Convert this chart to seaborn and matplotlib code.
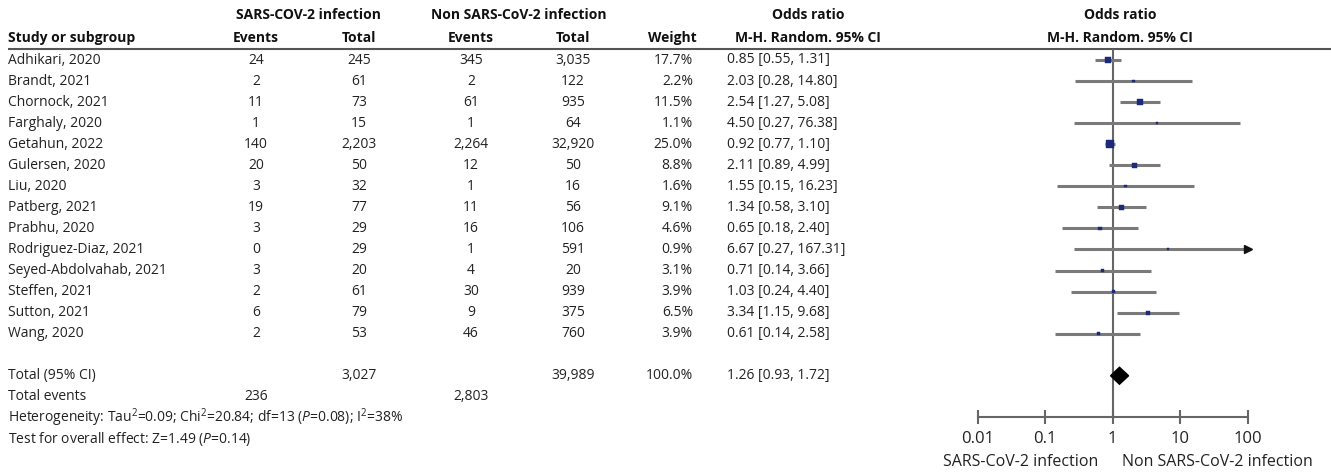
import numpy as np
import pandas as pd
import matplotlib
matplotlib.use("Agg")
import matplotlib.pyplot as plt
import seaborn as sns

# ---------------- data ----------------
studies = ["Adhikari, 2020", "Brandt, 2021", "Chornock, 2021", "Farghaly, 2020",
           "Getahun, 2022", "Gulersen, 2020", "Liu, 2020", "Patberg, 2021",
           "Prabhu, 2020", "Rodriguez-Diaz, 2021", "Seyed-Abdolvahab, 2021",
           "Steffen, 2021", "Sutton, 2021", "Wang, 2020"]
sars_events = [24, 2, 11, 1, 140, 20, 3, 19, 3, 0, 3, 2, 6, 2]
sars_total = [245, 61, 73, 15, 2203, 50, 32, 77, 29, 29, 20, 61, 79, 53]
non_events = [345, 2, 61, 1, 2264, 12, 1, 11, 16, 1, 4, 30, 9, 46]
non_total = [3035, 122, 935, 64, 32920, 50, 16, 56, 106, 591, 20, 939, 375, 760]
weights = [17.7, 2.2, 11.5, 1.1, 25.0, 8.8, 1.6, 9.1, 4.6, 0.9, 3.1, 3.9, 6.5, 3.9]
or_est = [0.85, 2.03, 2.54, 4.50, 0.92, 2.11, 1.55, 1.34, 0.65, 6.67, 0.71, 1.03, 3.34, 0.61]
or_lo = [0.55, 0.28, 1.27, 0.27, 0.77, 0.89, 0.15, 0.58, 0.18, 0.27, 0.14, 0.24, 1.15, 0.14]
or_hi = [1.31, 14.80, 5.08, 76.38, 1.10, 4.99, 16.23, 3.10, 2.40, 167.31, 3.66, 4.40, 9.68, 2.58]

total_sars = 3027
total_non = 39989
total_weight = 100.0
total_or = [1.26, 0.93, 1.72]
total_events_sars = 236
total_events_non = 2803

x_ticks = [0.01, 0.1, 1, 10, 100]
x_tick_labels = ["0.01", "0.1", "1", "10", "100"]
left_label = "SARS-CoV-2 infection"
right_label = "Non SARS-CoV-2 infection"

# ---------------- style ----------------
sns.set_theme(style="white")
FONT = ["Open Sans", "DejaVu Sans"]
plt.rcParams["font.family"] = FONT
plt.rcParams["mathtext.fontset"] = "custom"
plt.rcParams["mathtext.rm"] = "Open Sans"
plt.rcParams["mathtext.it"] = "Open Sans:italic"

W, H = 1331, 473
fig = plt.figure(figsize=(W / 100, H / 100), dpi=100)
fig.patch.set_facecolor("white")

# table axes in pixel coordinates
ax = fig.add_axes([0, 0, 1, 1])
ax.set_xlim(0, W)
ax.set_ylim(H, 0)
ax.axis("off")

TXT = "#222222"
FS = 10
row0, step = 60, 21.05
rows_y = [row0 + i * step for i in range(len(studies))]
y_total = row0 + 15 * step
y_tevents = y_total + step
y_het = y_tevents + step
y_test = y_het + step

# column positions
X_STUDY = 8
X_SE, X_ST, X_NE, X_NT = 256, 359, 471, 573
X_W = 693
X_OR = 727

# headers
hb = dict(fontsize=FS, fontweight="bold", color="#111111", va="center")
ax.text(308, 15, "SARS-COV-2 infection", ha="center", **hb)
ax.text(519, 15, "Non SARS-CoV-2 infection", ha="center", **hb)
ax.text(808, 15, "Odds ratio", ha="center", **hb)
ax.text(1120, 15, "Odds ratio", ha="center", **hb)
ax.text(X_STUDY, 38, "Study or subgroup", ha="left", **hb)
ax.text(X_SE, 38, "Events", ha="center", **hb)
ax.text(X_ST, 38, "Total", ha="center", **hb)
ax.text(X_NE, 38, "Events", ha="center", **hb)
ax.text(X_NT, 38, "Total", ha="center", **hb)
ax.text(672, 38, "Weight", ha="center", **hb)
ax.text(808, 38, "M-H. Random. 95% CI", ha="center", **hb)
ax.text(1120, 38, "M-H. Random. 95% CI", ha="center", **hb)
ax.plot([8, W], [49, 49], color="#555555", lw=1.5, solid_capstyle="butt")

tk = dict(fontsize=FS, color=TXT, va="center")
for i, y in enumerate(rows_y):
    ax.text(X_STUDY, y, studies[i], ha="left", **tk)
    ax.text(X_SE, y, f"{sars_events[i]:,}", ha="center", **tk)
    ax.text(X_ST, y, f"{sars_total[i]:,}", ha="center", **tk)
    ax.text(X_NE, y, f"{non_events[i]:,}", ha="center", **tk)
    ax.text(X_NT, y, f"{non_total[i]:,}", ha="center", **tk)
    ax.text(X_W, y, f"{weights[i]:.1f}%", ha="right", **tk)
    ax.text(X_OR, y, f"{or_est[i]:.2f} [{or_lo[i]:.2f}, {or_hi[i]:.2f}]", ha="left", **tk)

ax.text(X_STUDY, y_total, "Total (95% CI)", ha="left", **tk)
ax.text(X_ST, y_total, f"{total_sars:,}", ha="center", **tk)
ax.text(X_NT, y_total, f"{total_non:,}", ha="center", **tk)
ax.text(X_W, y_total, f"{total_weight:.1f}%", ha="right", **tk)
ax.text(X_OR, y_total, f"{total_or[0]:.2f} [{total_or[1]:.2f}, {total_or[2]:.2f}]", ha="left", **tk)
ax.text(X_STUDY, y_tevents, "Total events", ha="left", **tk)
ax.text(X_SE, y_tevents, f"{total_events_sars:,}", ha="center", **tk)
ax.text(X_NE, y_tevents, f"{total_events_non:,}", ha="center", **tk)
ax.text(X_STUDY, y_het,
        r"Heterogeneity: Tau$^2$=0.09; Chi$^2$=20.84; df=13 ($\mathit{P}$=0.08); I$^2$=38%",
        ha="left", **tk)
ax.text(X_STUDY, y_test, r"Test for overall effect: Z=1.49 ($\mathit{P}$=0.14)", ha="left", **tk)

# ---------------- forest plot ----------------
x0, x1 = 977.7, 1247.7
axf = fig.add_axes([x0 / W, 0, (x1 - x0) / W, 1])
axf.set_xscale("log")
axf.set_xlim(0.01, 100)
axf.set_ylim(H, 0)
axf.patch.set_alpha(0)
for s in ["top", "left", "right"]:
    axf.spines[s].set_visible(False)
AXIS_Y = 416.7
axf.spines["bottom"].set_position(("data", AXIS_Y))
axf.spines["bottom"].set_color("#666666")
axf.spines["bottom"].set_linewidth(1.5)
axf.set_yticks([])
axf.set_xticks(x_ticks)
axf.set_xticklabels(x_tick_labels)
axf.minorticks_off()
axf.tick_params(axis="x", direction="inout", length=10, width=1.5, color="#666666",
                labelsize=12, labelcolor="#222222", pad=5, bottom=True)

# line of no effect
axf.plot([1, 1], [50, AXIS_Y], color="#666666", lw=1.5, zorder=1)

df = pd.DataFrame({"study": studies, "est": or_est, "lo": or_lo, "hi": or_hi,
                   "weight": weights, "y": rows_y})
hi_clip = np.minimum(df["hi"], 100)
axf.hlines(df["y"], df["lo"], hi_clip, color="#7a7a7a", lw=2.2, zorder=2)
over = df[df["hi"] > 100]
if len(over):
    axf.plot([100] * len(over), over["y"], marker=">", color="#111111", ms=6,
             ls="none", clip_on=False, zorder=3)
sns.scatterplot(data=df, x="est", y="y", size="weight", sizes=(2, 30), marker="s",
                color="#1b2a7c", edgecolor="#1b2a7c", linewidth=0.3, legend=False,
                ax=axf, zorder=4, clip_on=False)

# pooled diamond
e, l, h = total_or
axf.fill([l, e, h, e], [y_total, y_total - 8.5, y_total, y_total + 8.5],
         color="black", zorder=5)

axf.set_xlabel("")
axf.set_ylabel("")

ax.text(1098, 462, left_label, ha="right", va="center", fontsize=11.5, color="#222222")
ax.text(1122, 462, right_label, ha="left", va="center", fontsize=11.5, color="#222222")

fig.savefig("out.png", dpi=100, facecolor="white")
